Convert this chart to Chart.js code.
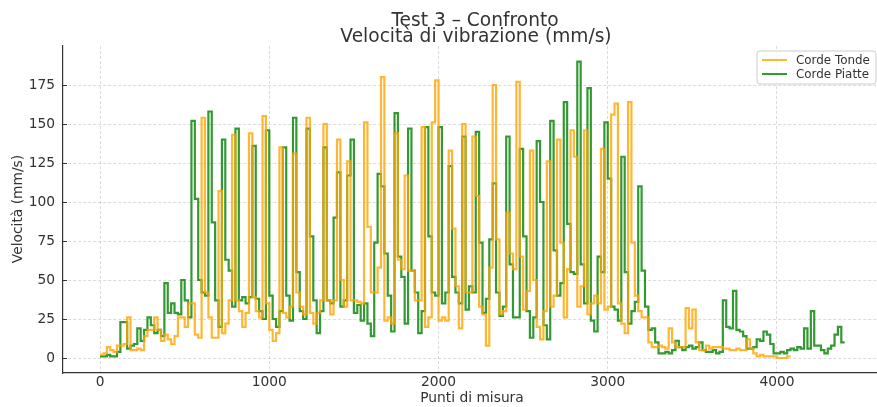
<!DOCTYPE html>
<html>
<head>
<meta charset="utf-8">
<script src="https://cdn.jsdelivr.net/npm/chart.js@4.4.1/dist/chart.umd.min.js"></script>
<style>
  html, body { margin: 0; padding: 0; background: #fff; }
  #wrap { width: 877px; height: 407px; position: relative; }
</style>
</head>
<body>
<div id="wrap"><canvas id="chart"></canvas></div>
<script>
const STEP = 20;

const cordeTonde = [
  2, 3, 7, 5, 4, 8, 8, 9, 26, 5,
  5, 6, 5, 14, 18, 18, 26, 18, 11, 15,
  12, 9, 14, 26, 26, 20, 35, 35, 15, 13,
  154, 42, 26, 13, 13, 107, 16, 22, 37, 143,
  37, 30, 20, 29, 144, 39, 30, 26, 155, 35,
  18, 11, 16, 135, 29, 26, 33, 131, 42, 33,
  28, 154, 29, 22, 29, 37, 150, 37, 28, 37,
  140, 50, 33, 126, 37, 37, 36, 35, 151, 84,
  42, 42, 58, 180, 24, 26, 22, 144, 63, 57,
  117, 56, 56, 37, 37, 148, 20, 26, 151, 178,
  24, 26, 24, 133, 83, 46, 19, 150, 42, 42,
  142, 104, 33, 28, 8, 58, 175, 76, 28, 30,
  93, 67, 57, 177, 65, 31, 43, 133, 50, 20,
  12, 30, 126, 33, 40, 140, 74, 26, 57, 146,
  129, 33, 46, 146, 28, 35, 40, 35, 134, 31,
  33, 156, 163, 35, 22, 16, 164, 74, 40, 30,
  26, 26, 10, 7, 7, 8, 7, 6, 19, 10,
  7, 7, 7, 32, 19, 31, 10, 5, 5, 8,
  6, 7, 7, 7, 6, 6, 5, 5, 6, 5,
  5, 12, 6, 3, 1, 2, 1, 1, 1, 1,
  0, 0, 0, 1, 1
];

const cordePiatte = [
  1, 1, 2, 1, 1, 4, 23, 23, 6, 8,
  9, 19, 11, 18, 26, 21, 16, 18, 14, 48,
  29, 35, 29, 28, 50, 37, 26, 152, 102, 50,
  42, 40, 158, 87, 37, 20, 140, 63, 56, 33,
  147, 37, 39, 35, 39, 136, 38, 30, 25, 146,
  40, 25, 20, 30, 135, 40, 24, 154, 55, 30,
  25, 147, 78, 37, 16, 30, 135, 37, 35, 90,
  119, 33, 37, 117, 140, 29, 34, 24, 35, 22,
  14, 74, 118, 110, 67, 40, 17, 157, 65, 52,
  22, 147, 56, 42, 16, 30, 148, 78, 42, 40,
  148, 35, 42, 123, 52, 42, 35, 142, 31, 46,
  42, 145, 74, 29, 38, 76, 112, 42, 27, 33,
  142, 60, 26, 26, 134, 78, 30, 13, 26, 139,
  100, 21, 12, 152, 69, 40, 48, 164, 86, 55,
  54, 190, 60, 35, 173, 24, 17, 65, 55, 151,
  115, 33, 31, 24, 129, 55, 22, 30, 36, 110,
  56, 33, 18, 19, 10, 3, 3, 4, 3, 5,
  11, 7, 5, 7, 8, 6, 7, 10, 5, 4,
  4, 5, 3, 4, 37, 20, 19, 43, 18, 17,
  14, 6, 6, 7, 12, 11, 17, 15, 9, 3,
  3, 4, 3, 5, 6, 5, 7, 6, 19, 6,
  30, 8, 8, 5, 3, 6, 8, 15, 20, 10,
  10
];

const xTicks = [0, 1000, 2000, 3000, 4000];
const yTicks = [0, 25, 50, 75, 100, 125, 150, 175];

const titleLines = ['Test 3 \u2013 Confronto', 'Velocit\u00e0 di vibrazione (mm/s)'];
const xTitle = 'Punti di misura';
const yTitle = 'Velocit\u00e0 (mm/s)';
const seriesNames = ['Corde Tonde', 'Corde Piatte'];
const seriesColors = ['rgba(255, 165, 0, 0.8)', 'rgba(0, 128, 0, 0.8)'];

const FONT = '"DejaVu Sans", sans-serif';
const TEXT = '#333333';

function toPoints(values) {
  return values.map((v, i) => ({ x: i * STEP, y: v }));
}

const textPlugin = {
  id: 'textPlugin',
  afterDraw(chart) {
    const ctx = chart.ctx;
    const area = chart.chartArea;
    ctx.save();

    // inward tick marks on the y axis
    const ys = chart.scales.y;
    ctx.strokeStyle = TEXT;
    ctx.lineWidth = 1;
    yTicks.forEach(t => {
      const py = Math.round(ys.getPixelForValue(t)) + 0.5;
      ctx.beginPath();
      ctx.moveTo(area.left, py);
      ctx.lineTo(area.left + 4, py);
      ctx.stroke();
    });

    ctx.fillStyle = TEXT;
    ctx.textAlign = 'center';
    ctx.textBaseline = 'alphabetic';
    ctx.font = '18.6px ' + FONT;
    ctx.fillText(titleLines[0], 475, 26);
    ctx.fillText(titleLines[1], 476, 41.7);

    ctx.font = '13.8px ' + FONT;
    ctx.fillText(xTitle, 472, 402);

    ctx.save();
    ctx.translate(22, 209);
    ctx.rotate(-Math.PI / 2);
    ctx.fillText(yTitle, 0, 0);
    ctx.restore();

    // legend box, top right inside the plot
    const bx = 757, by = 51, bw = 119, bh = 33, r = 3;
    ctx.beginPath();
    ctx.moveTo(bx + r, by);
    ctx.arcTo(bx + bw, by, bx + bw, by + bh, r);
    ctx.arcTo(bx + bw, by + bh, bx, by + bh, r);
    ctx.arcTo(bx, by + bh, bx, by, r);
    ctx.arcTo(bx, by, bx + bw, by, r);
    ctx.closePath();
    ctx.fillStyle = 'rgba(255, 255, 255, 0.8)';
    ctx.fill();
    ctx.strokeStyle = '#cccccc';
    ctx.lineWidth = 1;
    ctx.stroke();

    ctx.font = '11.9px ' + FONT;
    ctx.textAlign = 'left';
    ctx.textBaseline = 'middle';
    seriesNames.forEach((name, i) => {
      const ly = 60 + i * 14;
      ctx.strokeStyle = seriesColors[i];
      ctx.lineWidth = 2;
      ctx.beginPath();
      ctx.moveTo(762, ly);
      ctx.lineTo(787, ly);
      ctx.stroke();
      ctx.fillStyle = TEXT;
      ctx.fillText(name, 796, ly + 0.5);
    });

    ctx.restore();
  }
};

const ctx = document.getElementById('chart').getContext('2d');
new Chart(ctx, {
  type: 'line',
  data: {
    datasets: [
      {
        label: seriesNames[0],
        data: toPoints(cordeTonde),
        borderColor: seriesColors[0],
        borderWidth: 2.2,
        pointRadius: 0,
        stepped: true,
        fill: false,
      },
      {
        label: seriesNames[1],
        data: toPoints(cordePiatte),
        borderColor: seriesColors[1],
        borderWidth: 2.2,
        pointRadius: 0,
        stepped: true,
        fill: false,
      },
    ],
  },
  options: {
    responsive: true,
    maintainAspectRatio: false,
    animation: false,
    events: [],
    layout: { padding: { top: 46, left: 0, right: 0, bottom: 0 } },
    plugins: {
      legend: { display: false },
      title: { display: false },
      tooltip: { enabled: false },
    },
    scales: {
      x: {
        type: 'linear',
        min: -219,
        max: 4591,
        afterBuildTicks: (scale) => { scale.ticks = xTicks.map(v => ({ value: v })); },
        afterFit: (scale) => { scale.height = 34; },
        grid: {
          color: 'rgba(0, 0, 0, 0.18)',
          lineWidth: 0.8,
          drawTicks: false,
        },
        border: { display: true, color: TEXT, width: 1.2, dash: [3, 2] },
        ticks: {
          color: TEXT,
          padding: 1,
          maxRotation: 0,
          font: { family: FONT, size: 13.8 },
          callback: (v) => String(v),
        },
      },
      y: {
        type: 'linear',
        min: -9.6,
        max: 200,
        afterBuildTicks: (scale) => { scale.ticks = yTicks.map(v => ({ value: v })); },
        afterFit: (scale) => { scale.width = 63; },
        grid: {
          color: 'rgba(0, 0, 0, 0.18)',
          lineWidth: 0.8,
          drawTicks: false,
        },
        border: { display: true, color: TEXT, width: 1.2, dash: [3, 2] },
        ticks: {
          color: TEXT,
          padding: 8,
          font: { family: FONT, size: 13.8 },
          callback: (v) => String(v),
        },
      },
    },
  },
  plugins: [textPlugin],
});
</script>
</body>
</html>
